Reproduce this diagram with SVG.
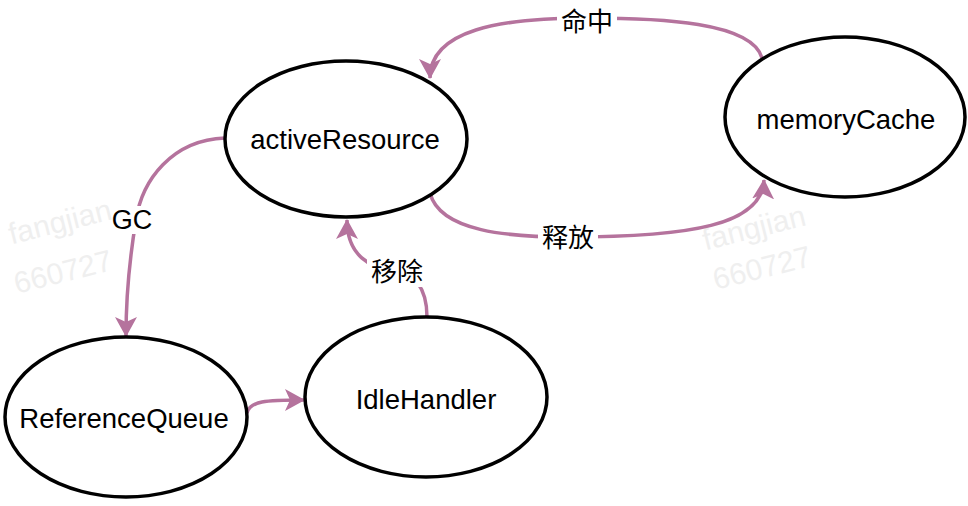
<svg xmlns="http://www.w3.org/2000/svg" width="968" height="506" viewBox="0 0 968 506">
<style>
.node ellipse{fill:#fff;stroke:#000;stroke-width:3.5}
.node text{font-family:"Liberation Sans",Arial,sans-serif;font-size:27.5px;fill:#000;text-anchor:middle}
.edge{fill:none;stroke:#B5739D;stroke-width:3.5}
.lbl text{font-family:"Liberation Sans","Noto Sans CJK SC",sans-serif;font-size:26px;fill:#000;text-anchor:middle}
.lbl rect{fill:#fff}
.wm{font-family:"Liberation Sans",Arial,sans-serif;font-size:30px;fill:#efefef;text-anchor:middle}
</style>
<defs>
<marker id="arr" viewBox="0 0 20 22" refX="19" refY="11" markerWidth="20" markerHeight="22" markerUnits="userSpaceOnUse" orient="auto">
<path d="M0,0 L20,11 L0,22 L5,11 Z" fill="#B5739D"/>
</marker>
</defs>
<g id="watermark">
<text class="wm" x="60" y="232" transform="rotate(-14 60 222)">fangjian</text>
<text class="wm" x="63" y="282" transform="rotate(-14 63 272)">660727</text>
<text class="wm" x="754" y="238" transform="rotate(-14 754 228)">fangjian</text>
<text class="wm" x="762" y="278" transform="rotate(-14 762 268)">660727</text>
</g>
<g id="connectors">
<path class="edge" d="M762,58 C752,22 660,18 587,18 C500,18 430,30 430,78" marker-end="url(#arr)"/>
<path class="edge" d="M430,193 C440,232 510,237 568,237 C690,237 762,225 764,180" marker-end="url(#arr)"/>
<path class="edge" d="M225,138 C172,140 142,180 136,220 C129,262 126,300 126,336" marker-end="url(#arr)"/>
<path class="edge" d="M427,317 C427,286 412,272 396,271 C370,269 347,255 347,220" marker-end="url(#arr)"/>
<path class="edge" d="M247,413 C250,401 265,400 304,400" marker-end="url(#arr)"/>
</g>
<g id="labels" class="lbl">
<rect x="557" y="6" width="60" height="30"/>
<text x="587" y="31">命中</text>
<rect x="538" y="223" width="60" height="30"/>
<text x="568" y="247">释放</text>
<rect x="112" y="206" width="41" height="28"/>
<text x="132" y="229" style="font-size:27px">GC</text>
<rect x="367" y="258" width="60" height="29"/>
<text x="397" y="281">移除</text>
</g>
<g id="activeResource" class="node">
<ellipse cx="346" cy="139" rx="121" ry="78"/>
<text x="345" y="149">activeResource</text>
</g>
<g id="memoryCache" class="node">
<ellipse cx="845" cy="117" rx="120" ry="80"/>
<text x="846" y="129">memoryCache</text>
</g>
<g id="ReferenceQueue" class="node">
<ellipse cx="126" cy="417" rx="121" ry="80"/>
<text x="124" y="428">ReferenceQueue</text>
</g>
<g id="IdleHandler" class="node">
<ellipse cx="426" cy="397" rx="121" ry="80"/>
<text x="426" y="409">IdleHandler</text>
</g>
</svg>
